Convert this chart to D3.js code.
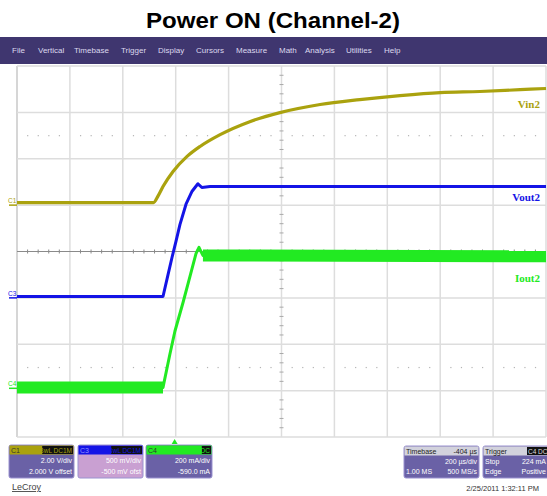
<!DOCTYPE html>
<html>
<head>
<meta charset="utf-8">
<script src="https://cdn.jsdelivr.net/npm/d3@7"></script>
<style>
  body { margin: 0; background: #fff; }
  svg { display: block; font-family: 'Liberation Sans', Arial, sans-serif; }
</style>
</head>
<body>
<div id="chart"></div>
<script>
// time in microseconds, trigger at 0
const vinTime = [-596, -80, -62, -44, -6, 46, 96, 172, 284, 398, 550, 700, 852, 1004, 1154, 1306, 1404]
const vinVolts = [0.11, 0.11, 0.41, 0.80, 1.45, 2.09, 2.53, 3.04, 3.60, 3.99, 4.34, 4.55, 4.72, 4.85, 4.90, 4.98, 5.03]

const voutTime = [-596, -44, -25, -10, 5, 20, 43, 66, 88, 103, 134, 1404]
const voutVolts = [0.015, 0.015, 0.25, 0.435, 0.61, 0.79, 1.01, 1.15, 1.23, 1.19, 1.20, 1.20]

const ioutTime = [-596, -44, -18, 1, 32, 58, 81, 92, 107, 1404]
const ioutMilliamps = [4, 4, 147, 246, 371, 483, 582, 608, 573, 569]

const menuItems = ['File', 'Vertical', 'Timebase', 'Trigger', 'Display', 'Cursors', 'Measure', 'Math', 'Analysis', 'Utilities', 'Help']
const menuX = [12, 38, 74, 121, 158, 196, 236, 279, 305, 346, 384]

const channels = [
  { id: 'C1', name: 'Vin2', perDiv: 2, offset: 2, color: '#aaa20e', badge: 'BwL DC1M', line1: '2.00 V/div', line2: '2.000 V offset' },
  { id: 'C3', name: 'Vout2', perDiv: 0.5, offset: -0.5, color: '#1414e6', badge: 'BwL DC1M', line1: '500 mV/div', line2: '-500 mV ofst' },
  { id: 'C4', name: 'Iout2', perDiv: 200, offset: -590, color: '#22ea22', badge: 'DC', line1: '200 mA/div', line2: '-590.0 mA' }
]

const timebase = { delay: '-404 µs', perDiv: '200 µs/div', samples: '1.00 MS', rate: '500 MS/s' }
const trigger = { source: 'C4 DC', mode: 'Stop', level: '224 mA', type: 'Edge', slope: 'Positive' }
const stamp = '2/25/2011 1:32:11 PM'

const width = 547
const height = 496
const grid = { left: 17, right: 546, top: 66, bottom: 437 }

const svg = d3.select('#chart').append('svg').attr('width', width).attr('height', height)

svg.append('text')
  .attr('x', 273).attr('y', 28)
  .attr('text-anchor', 'middle')
  .attr('font-size', 22).attr('font-weight', 'bold')
  .attr('textLength', 254).attr('lengthAdjust', 'spacingAndGlyphs')
  .attr('fill', '#000')
  .text('Power ON (Channel-2)')

// menu bar
svg.append('rect').attr('x', 0).attr('y', 37).attr('width', width).attr('height', 27).attr('fill', '#3f366f')
svg.selectAll('.menu').data(menuItems).join('text')
  .attr('x', (d, i) => menuX[i]).attr('y', 53)
  .attr('font-size', 8).attr('fill', '#dcd8ee')
  .text(d => d)

const x = d3.scaleLinear().domain([-596, 1404]).range([grid.left, grid.right])
const y = d3.scaleLinear().domain([-4, 4]).range([grid.bottom, grid.top])

const g = svg.append('g')

// grid
g.selectAll('.vgrid').data(d3.range(-596, 1405, 200)).join('line')
  .attr('x1', d => x(d)).attr('x2', d => x(d))
  .attr('y1', grid.top).attr('y2', grid.bottom)
  .attr('stroke', (d, i) => i === 0 ? '#c8c8c8' : '#dddddd').attr('stroke-width', 1.5)
g.selectAll('.hgrid').data(d3.range(-4, 5)).join('line')
  .attr('x1', grid.left).attr('x2', grid.right)
  .attr('y1', d => y(d)).attr('y2', d => y(d))
  .attr('stroke', d => d === 0 ? '#8a8a8a' : '#dddddd').attr('stroke-width', d => d === 0 ? 1 : 1.5)

// minor ticks on center line and dotted rows
const minorX = d3.range(-596, 1404, 40).filter((d, i) => i % 5 !== 0)
g.selectAll('.ctick').data(minorX).join('line')
  .attr('x1', d => x(d)).attr('x2', d => x(d))
  .attr('y1', y(0) - 2).attr('y2', y(0) + 2)
  .attr('stroke', '#8a8a8a').attr('stroke-width', 1)
;[2.5, -2.5].forEach(row => {
  g.selectAll(null).data(minorX).join('rect')
    .attr('x', d => x(d) - 0.5).attr('y', y(row) - 0.5)
    .attr('width', 1.2).attr('height', 1.2).attr('fill', '#b4b4b4')
})
const minorY = d3.range(-4, 4, 0.2).filter(d => Math.abs(d - Math.round(d)) > 0.01)
g.selectAll('.vtick').data(minorY).join('line')
  .attr('x1', x(404) - 2).attr('x2', x(404) + 2)
  .attr('y1', d => y(d)).attr('y2', d => y(d))
  .attr('stroke', '#a8a8a8').attr('stroke-width', 1)

// traces; noisy flat parts of the current trace drawn as a thick band
const traces = [
  { ch: channels[0], t: vinTime, v: vinVolts, w: 3.2, curve: d3.curveMonotoneX, label: { y: 108 }, bands: [] },
  { ch: channels[1], t: voutTime, v: voutVolts, w: 3, curve: d3.curveLinear, label: { y: 201 }, bands: [] },
  { ch: channels[2], t: ioutTime, v: ioutMilliamps, w: 3, curve: d3.curveLinear, label: { y: 282 }, bands: [[0, 2], [8, 10]] }
]

traces.forEach(tr => {
  const pts = tr.t.map((t, i) => [x(t), y((tr.v[i] + tr.ch.offset) / tr.ch.perDiv)])
  g.append('path')
    .attr('d', d3.line().curve(tr.curve)(pts))
    .attr('fill', 'none')
    .attr('stroke', tr.ch.color)
    .attr('stroke-width', tr.w)
    .attr('stroke-linejoin', 'round')
  tr.bands.forEach(([a, b]) => {
    g.append('path')
      .attr('d', d3.line()(pts.slice(a, b)))
      .attr('fill', 'none')
      .attr('stroke', tr.ch.color)
      .attr('stroke-width', 12)
  })
  g.append('text')
    .attr('x', 540).attr('y', tr.label.y)
    .attr('text-anchor', 'end')
    .attr('font-family', "'Liberation Serif', serif")
    .attr('font-weight', 'bold').attr('font-size', 11)
    .attr('fill', tr.ch.color)
    .text(tr.ch.name)
  // ground markers
  const gy = y(tr.ch.offset / tr.ch.perDiv)
  g.append('line').attr('x1', 9).attr('x2', grid.left).attr('y1', gy).attr('y2', gy)
    .attr('stroke', tr.ch.color).attr('stroke-width', 1.5)
  g.append('text').attr('x', 8).attr('y', gy - 2)
    .attr('font-size', 6.5).attr('fill', tr.ch.color).text(tr.ch.id)
})

// trigger marker
svg.append('path')
  .attr('d', `M${x(0) - 3},${grid.bottom + 7}L${x(0)},${grid.bottom + 2}L${x(0) + 3},${grid.bottom + 7}Z`)
  .attr('fill', '#22ea22')

// channel panels
const panelBody = '#6a61a6'
const panelX = [9, 78, 146]
channels.forEach((ch, i) => {
  const px = panelX[i]
  const pw = i === 2 ? 66 : 65
  const p = svg.append('g').attr('transform', `translate(${px},445)`)
  p.append('rect').attr('width', pw).attr('height', 33).attr('rx', 2)
    .attr('fill', i === 1 ? '#c9a0d2' : panelBody).attr('stroke', '#9a92d0').attr('stroke-width', 1)
  p.append('rect').attr('x', 0.5).attr('y', 0.5).attr('width', pw - 1).attr('height', 9).attr('fill', ch.color)
  p.append('text').attr('x', 2).attr('y', 8).attr('font-size', 7).attr('fill', i === 1 ? '#9090ff' : '#333').text(ch.id)
  const bw = ch.badge.length * 3.6 + 2
  p.append('rect').attr('x', pw - bw - 1).attr('y', 1).attr('width', bw).attr('height', 8).attr('fill', '#111')
  p.append('text').attr('x', pw - 2).attr('y', 8).attr('text-anchor', 'end')
    .attr('font-size', 6.5).attr('fill', ch.color).text(ch.badge)
  p.append('text').attr('x', pw - 2).attr('y', 18).attr('text-anchor', 'end')
    .attr('font-size', 7).attr('fill', '#fff').text(ch.line1)
  p.append('text').attr('x', pw - 2).attr('y', 29).attr('text-anchor', 'end')
    .attr('font-size', 7).attr('fill', '#fff').text(ch.line2)
})

// timebase panel
const tb = svg.append('g').attr('transform', 'translate(404,446)')
tb.append('rect').attr('width', 75).attr('height', 32).attr('rx', 2).attr('fill', panelBody).attr('stroke', '#9a92d0')
tb.append('rect').attr('x', 0.5).attr('y', 0.5).attr('width', 74).attr('height', 9).attr('fill', '#d2d2dc')
tb.append('text').attr('x', 2).attr('y', 8).attr('font-size', 7).attr('fill', '#222').text('Timebase')
tb.append('text').attr('x', 73).attr('y', 8).attr('text-anchor', 'end').attr('font-size', 7).attr('fill', '#222').text(timebase.delay)
tb.append('text').attr('x', 73).attr('y', 18).attr('text-anchor', 'end').attr('font-size', 7).attr('fill', '#fff').text(timebase.perDiv)
tb.append('text').attr('x', 2).attr('y', 28).attr('font-size', 7).attr('fill', '#fff').text(timebase.samples)
tb.append('text').attr('x', 73).attr('y', 28).attr('text-anchor', 'end').attr('font-size', 7).attr('fill', '#fff').text(timebase.rate)

// trigger panel
const tg = svg.append('g').attr('transform', 'translate(483,446)')
tg.append('rect').attr('width', 68).attr('height', 32).attr('rx', 2).attr('fill', panelBody).attr('stroke', '#9a92d0')
tg.append('rect').attr('x', 0.5).attr('y', 0.5).attr('width', 67).attr('height', 9).attr('fill', '#d2d2dc')
tg.append('text').attr('x', 2).attr('y', 8).attr('font-size', 7).attr('fill', '#222').text('Trigger')
tg.append('rect').attr('x', 44).attr('y', 1).attr('width', 23).attr('height', 8).attr('fill', '#111')
tg.append('text').attr('x', 45).attr('y', 8).attr('font-size', 6.5).attr('fill', '#ddd').text(trigger.source)
tg.append('text').attr('x', 2).attr('y', 18).attr('font-size', 7).attr('fill', '#fff').text(trigger.mode)
tg.append('text').attr('x', 63).attr('y', 18).attr('text-anchor', 'end').attr('font-size', 7).attr('fill', '#fff').text(trigger.level)
tg.append('text').attr('x', 2).attr('y', 28).attr('font-size', 7).attr('fill', '#fff').text(trigger.type)
tg.append('text').attr('x', 63).attr('y', 28).attr('text-anchor', 'end').attr('font-size', 7).attr('fill', '#fff').text(trigger.slope)

svg.append('text').attr('x', 539).attr('y', 491).attr('text-anchor', 'end')
  .attr('font-size', 7.5).attr('fill', '#333').text(stamp)

svg.append('text').attr('x', 12).attr('y', 490)
  .attr('font-size', 9).attr('fill', '#444').attr('text-decoration', 'underline')
  .text('LeCroy')
</script>
</body>
</html>
